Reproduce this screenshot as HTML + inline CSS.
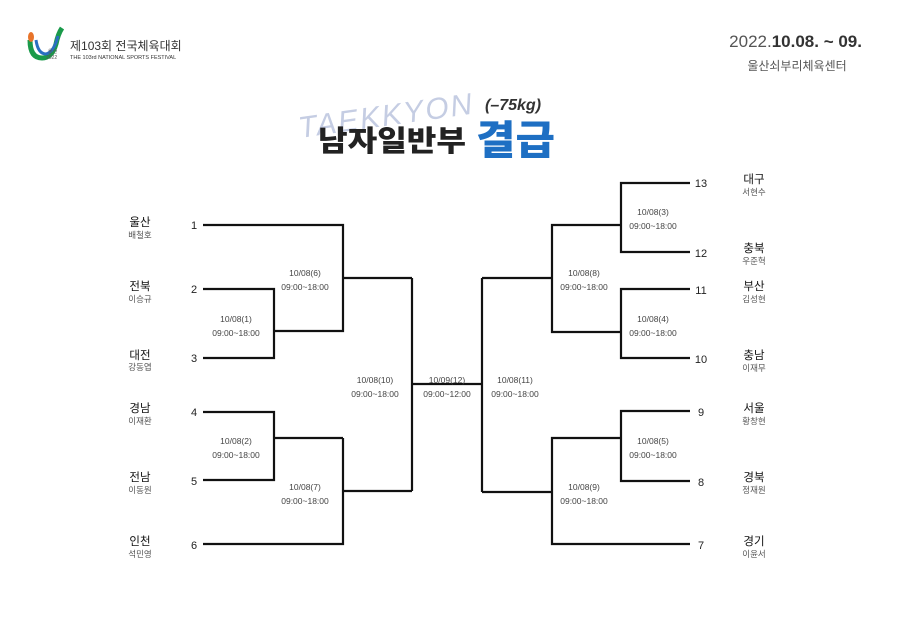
<!DOCTYPE html>
<html><head><meta charset="utf-8"><style>
html,body{margin:0;padding:0;background:#fff;}
svg{display:block;}
</style></head><body>
<svg width="900" height="636" viewBox="0 0 900 636" xmlns="http://www.w3.org/2000/svg" font-family="Liberation Sans, Noto Sans CJK KR, sans-serif">
<rect width="900" height="636" fill="#fff"/>
<!-- logo -->
<path d="M30 40 Q30 58 42 58 Q52 58 56 44 Q58 34 62 28" stroke="#1a9a4a" stroke-width="5" fill="none"/>
<path d="M36 40 Q38 54 46 54 Q54 52 58 36" stroke="#2a6fc0" stroke-width="3" fill="none"/>
<ellipse cx="31" cy="37" rx="3" ry="5" fill="#e8742a"/>
<text x="48" y="53" font-size="5" fill="#555">울산</text>
<text x="46" y="59" font-size="5" fill="#555">2022</text>
<text x="70" y="50" font-size="12" fill="#333">제103회 전국체육대회</text>
<text x="70" y="59" font-size="5.5" fill="#333">THE 103rd NATIONAL SPORTS FESTIVAL</text>
<!-- date -->
<text x="862" y="47" font-size="17" fill="#555" text-anchor="end"><tspan>2022.</tspan><tspan font-weight="bold" fill="#333">10.08. ~ 09.</tspan></text>
<text x="797" y="70" font-size="12" fill="#555" text-anchor="middle">울산쇠부리체육센터</text>
<!-- title -->
<text x="298" y="128" font-size="30" font-style="italic" fill="#c5cde3" transform="rotate(-8 370 120)" letter-spacing="2">TAEKKYON</text>
<text x="485" y="110" font-size="16" font-weight="bold" font-style="italic" fill="#333">(–75kg)</text>
<text x="318" y="151" font-size="29" font-weight="900" fill="#222" textLength="148" lengthAdjust="spacingAndGlyphs">남자일반부</text>
<text x="476" y="154" font-size="40" font-weight="900" fill="#1e6fc3" textLength="79" lengthAdjust="spacingAndGlyphs">결급</text>
<!-- bracket lines -->
<g stroke="#111" stroke-width="2.2" fill="none">
<polyline points="203,225 343,225 343,331 274,331"/>
<polyline points="203,289 274,289 274,358 203,358"/>
<line x1="343" y1="278" x2="412" y2="278"/>
<polyline points="203,412 274,412 274,480 203,480"/>
<line x1="274" y1="438" x2="343" y2="438"/>
<polyline points="203,544 343,544 343,438"/>
<line x1="343" y1="491" x2="412" y2="491"/>
<line x1="412" y1="278" x2="412" y2="491"/>
<line x1="412" y1="384" x2="482" y2="384"/>
<line x1="482" y1="278" x2="482" y2="492"/>
<line x1="482" y1="278" x2="552" y2="278"/>
<line x1="482" y1="492" x2="552" y2="492"/>
<polyline points="690,183 621,183 621,252 690,252"/>
<polyline points="690,289 621,289 621,358 690,358"/>
<polyline points="621,225 552,225 552,332 621,332"/>
<polyline points="690,411 621,411 621,481 690,481"/>
<polyline points="621,438 552,438 552,544 690,544"/>
</g>
<!-- numbers -->
<g font-size="11" fill="#222" text-anchor="middle">
<text x="194" y="229">1</text><text x="194" y="293">2</text><text x="194" y="362">3</text>
<text x="194" y="416">4</text><text x="194" y="485">5</text><text x="194" y="549">6</text>
<text x="701" y="187">13</text><text x="701" y="257">12</text><text x="701" y="294">11</text>
<text x="701" y="363">10</text><text x="701" y="416">9</text><text x="701" y="486">8</text><text x="701" y="549">7</text>
</g>
<!-- teams -->
<g text-anchor="middle" fill="#111">
<g font-size="11.5">
<text x="140" y="226">울산</text><text x="140" y="290">전북</text><text x="140" y="359">대전</text>
<text x="140" y="412">경남</text><text x="140" y="481">전남</text><text x="140" y="545">인천</text>
<text x="754" y="183">대구</text><text x="754" y="252">충북</text><text x="754" y="290">부산</text>
<text x="754" y="359">충남</text><text x="754" y="412">서울</text><text x="754" y="481">경북</text><text x="754" y="545">경기</text>
</g>
<g font-size="8.5" fill="#555">
<text x="140" y="238">배철호</text><text x="140" y="302">이승규</text><text x="140" y="370">강동엽</text>
<text x="140" y="424">이재환</text><text x="140" y="493">이동원</text><text x="140" y="557">석민영</text>
<text x="754" y="195">서현수</text><text x="754" y="264">우준혁</text><text x="754" y="302">김성현</text>
<text x="754" y="371">이재무</text><text x="754" y="424">황창현</text><text x="754" y="493">정재원</text><text x="754" y="557">이윤서</text>
</g>
</g>
<!-- match labels -->
<g font-size="8.5" fill="#444" text-anchor="middle">
<text x="236" y="322">10/08(1)</text><text x="236" y="336">09:00~18:00</text>
<text x="236" y="444">10/08(2)</text><text x="236" y="458">09:00~18:00</text>
<text x="305" y="276">10/08(6)</text><text x="305" y="290">09:00~18:00</text>
<text x="305" y="490">10/08(7)</text><text x="305" y="504">09:00~18:00</text>
<text x="375" y="383">10/08(10)</text><text x="375" y="397">09:00~18:00</text>
<text x="447" y="383">10/09(12)</text><text x="447" y="397">09:00~12:00</text>
<text x="515" y="383">10/08(11)</text><text x="515" y="397">09:00~18:00</text>
<text x="584" y="276">10/08(8)</text><text x="584" y="290">09:00~18:00</text>
<text x="584" y="490">10/08(9)</text><text x="584" y="504">09:00~18:00</text>
<text x="653" y="215">10/08(3)</text><text x="653" y="229">09:00~18:00</text>
<text x="653" y="322">10/08(4)</text><text x="653" y="336">09:00~18:00</text>
<text x="653" y="444">10/08(5)</text><text x="653" y="458">09:00~18:00</text>
</g>
</svg>
</body></html>
